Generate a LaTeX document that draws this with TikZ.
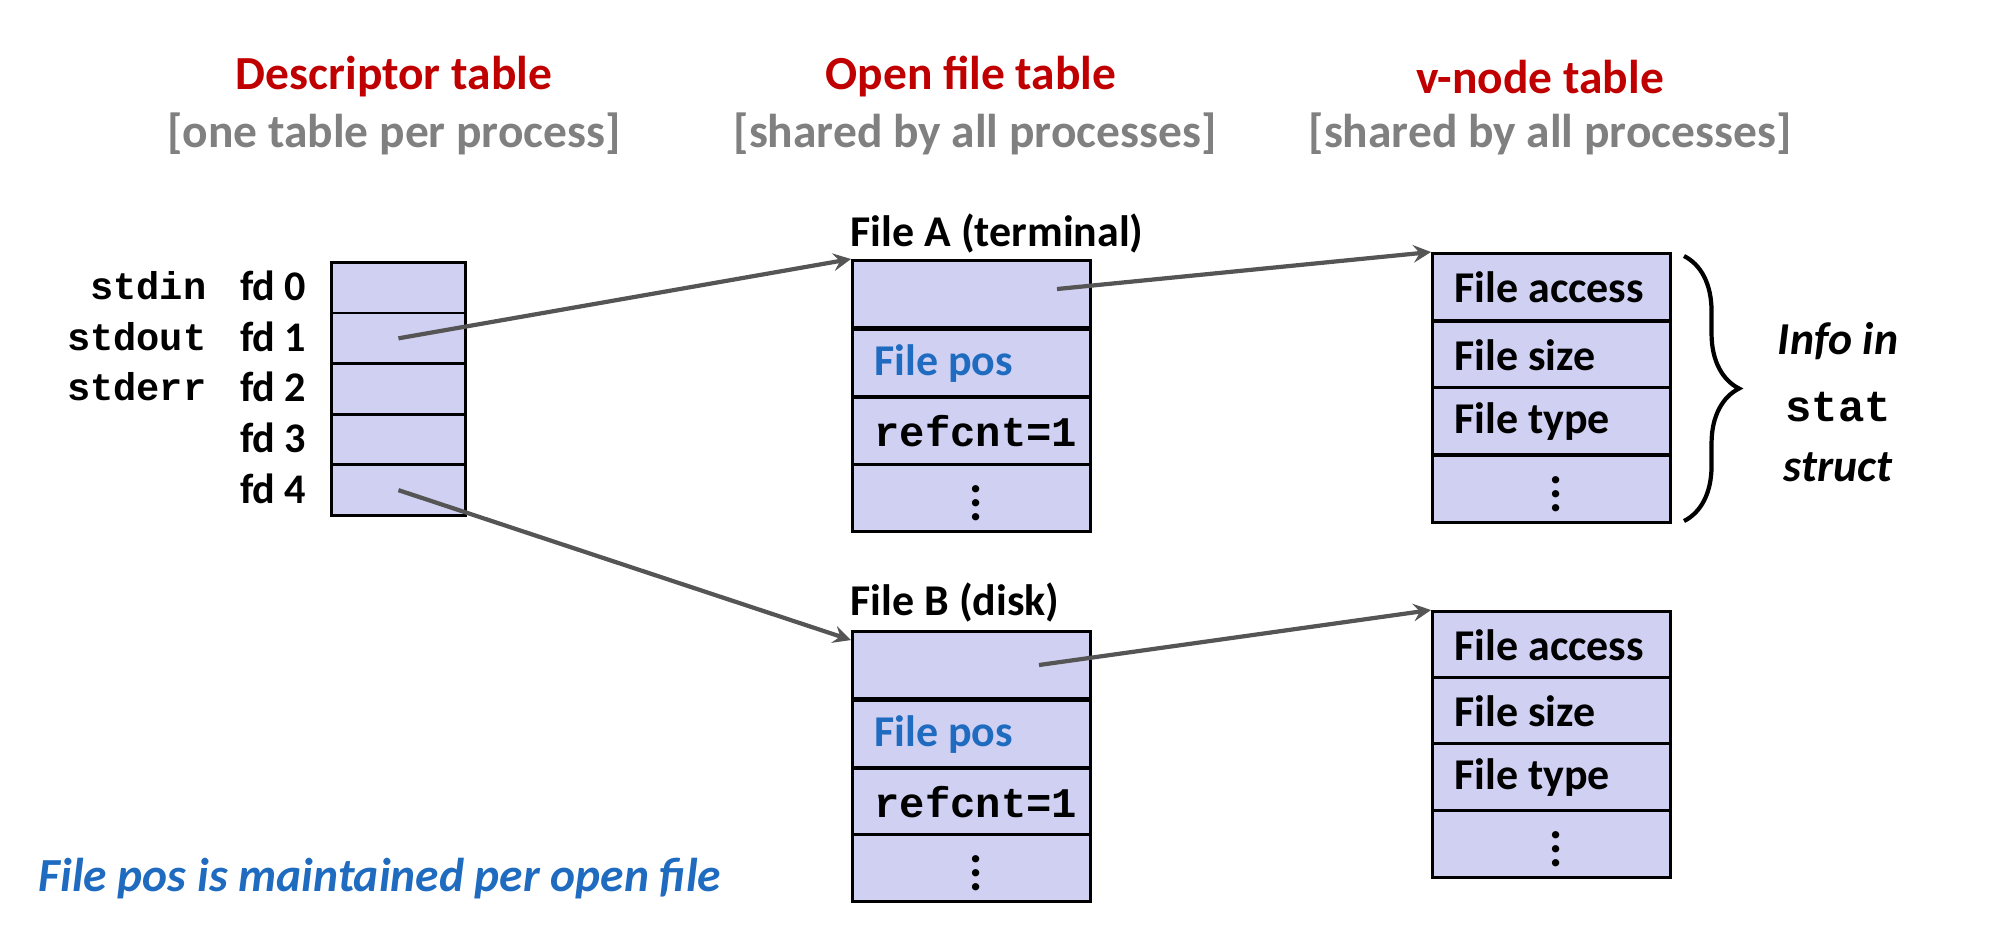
\documentclass[tikz,border=0pt]{standalone}
\usepackage{fontspec}
\setmainfont{Carlito}
\newfontfamily\codefont{Liberation Mono}
\usetikzlibrary{decorations.pathreplacing}
\definecolor{titlered}{HTML}{C00000}
\definecolor{subgray}{HTML}{808080}
\definecolor{cellfill}{HTML}{D0D0F2}
\definecolor{posblue}{HTML}{1F6BC0}
\definecolor{arrowgray}{HTML}{555555}

\begin{document}
\begin{tikzpicture}[x=0.01cm, y=-0.01cm,
    title/.style={font=\fontsize{13.5}{16}\selectfont\bfseries, text=titlered},
    subtitle/.style={font=\fontsize{13.5}{16}\selectfont\bfseries, text=subgray},
    dcell/.style={rectangle, draw, line width=0.8pt, fill=cellfill, anchor=north west, minimum width=1.34cm, minimum height=0.506cm, inner sep=0pt},
    cell/.style={rectangle, draw, line width=0.8pt, fill=cellfill, anchor=north west, minimum width=2.38cm, minimum height=0.673cm, inner xsep=0.12cm, inner ysep=0pt, text width=2.14cm, align=flush left, font=\fontsize{12.5}{15}\selectfont\bfseries, execute at begin node={\hspace*{0.1cm}}},
    dots/.style={cell, align=center, execute at begin node={}, font=\fontsize{14}{14}\selectfont\bfseries},
    code/.style={font=\fontsize{12}{15}\selectfont\codefont\bfseries},
    lbl/.style={font=\fontsize{12}{15}\selectfont\bfseries, inner sep=0pt},
    arrow/.style={->, >=stealth, line width=1.2pt, draw=arrowgray}
]
\useasboundingbox (0,0) rectangle (2004,926);

% titles
\node[title] (t1) at (394,77) {Descriptor table};
\node[subtitle] (s1) at (394,134) {[one table per process]};
\node[title] (t2) at (971,77) {Open file table};
\node[subtitle] (s2) at (975,134) {[shared by all processes]};
\node[title] (t3) at (1540,77) {v-node table};
\node[subtitle] (s3) at (1550,134) {[shared by all processes]};

% descriptor table
\foreach \i in {0,...,4} {
    \node[dcell] (fd\i) at (330,{261+50.6*\i}) {};
    \node[lbl, anchor=east] (fdl\i) at (307,{286+50.6*\i}) {fd \i};
}
\node[code, font=\fontsize{11}{13}\selectfont\codefont\bfseries, anchor=east, inner sep=0pt] (sin) at (207,286) {stdin};
\node[code, font=\fontsize{11}{13}\selectfont\codefont\bfseries, anchor=east, inner sep=0pt] (sout) at (207,337) {stdout};
\node[code, font=\fontsize{11}{13}\selectfont\codefont\bfseries, anchor=east, inner sep=0pt] (serr) at (207,387) {stderr};

% open file table
\node[lbl, anchor=west, font=\fontsize{12.5}{15}\selectfont\bfseries] (fAl) at (850,233) {File A (terminal)};
\node[cell] (fA0) at (851,259) {};
\node[cell, text=posblue] (fA1) at (851,328) {File pos};
\node[cell, code] (fA2) at (851,396) {refcnt=1};
\node[dots] (fA3) at (851,463) {\raisebox{3pt}{\vdots}};

\node[lbl, anchor=west, font=\fontsize{12.5}{15}\selectfont\bfseries] (fBl) at (850,602) {File B (disk)};
\node[cell] (fB0) at (851,630) {};
\node[cell, text=posblue] (fB1) at (851,699) {File pos};
\node[cell, code] (fB2) at (851,767) {refcnt=1};
\node[dots] (fB3) at (851,833) {\raisebox{3pt}{\vdots}};

% v-node table
\node[cell] (vA0) at (1431,252) {File access};
\node[cell] (vA1) at (1431,320) {File size};
\node[cell] (vA2) at (1431,386) {File type};
\node[dots] (vA3) at (1431,454) {\raisebox{3pt}{\vdots}};

\node[cell] (vB0) at (1431,610) {File access};
\node[cell] (vB1) at (1431,676) {File size};
\node[cell] (vB2) at (1431,742) {File type};
\node[dots] (vB3) at (1431,809) {\raisebox{3pt}{\vdots}};

% pointers
\coordinate (pA) at (1057,289);
\coordinate (pB) at (1039,665);
\draw[arrow] (fd1.center) -- (fA0.north west);
\draw[arrow] (fd4.center) -- ([yshift=-0.1cm]fB0.north west);
\draw[arrow] (pA) -- (vA0.north west);
\draw[arrow] (pB) -- (vB0.north west);

% stat brace
\coordinate (br1) at (1684,256);
\coordinate (br2) at (1684,521);
\draw[line width=1.2pt, decorate, decoration={brace, amplitude=0.55cm}] (br1) -- (br2);
\node[align=center, inner sep=0pt] (info) at (1838,402) {\fontsize{13}{16}\selectfont\bfseries\itshape Info in\\[7pt]{\codefont\upshape\bfseries\fontsize{12.5}{16}\selectfont stat}\\[5pt]\fontsize{13}{16}\selectfont\bfseries\itshape struct};

% note
\node[anchor=west, inner sep=0pt, text=posblue, font=\fontsize{13.5}{16}\selectfont\bfseries\itshape] (note) at (38,879) {File pos is maintained per open file};
\end{tikzpicture}
\end{document}
